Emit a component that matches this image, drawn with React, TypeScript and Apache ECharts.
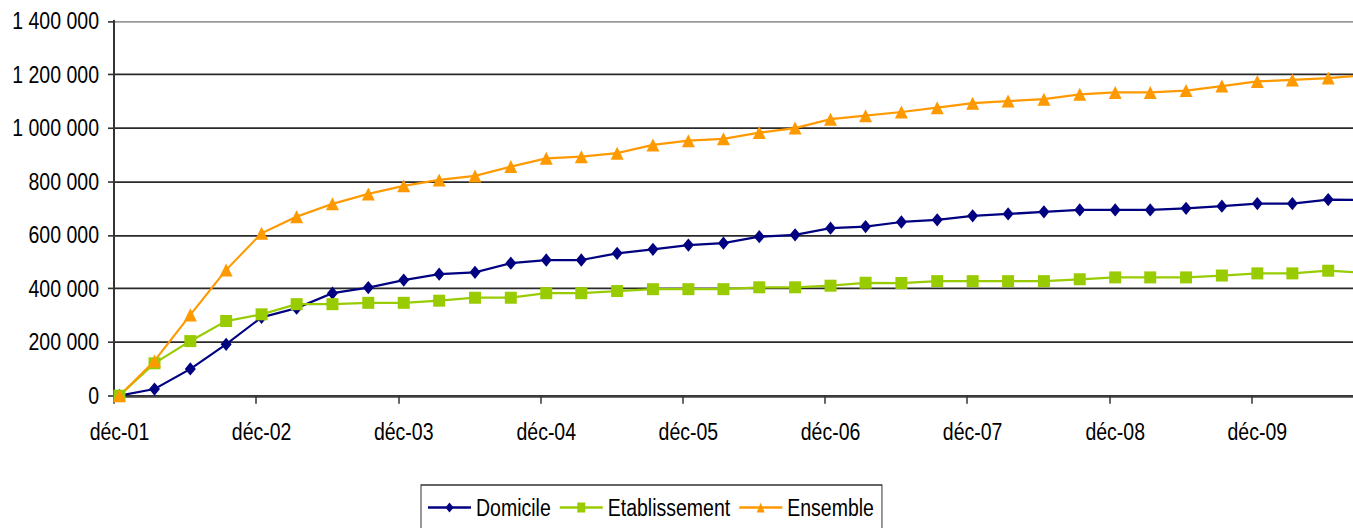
import React, { useEffect, useRef } from "react";
import * as echarts from "echarts";

// Quarterly observation months (cumulative counts)
const quarters = [
  "2001-12", "2002-03", "2002-06", "2002-09", "2002-12", "2003-03", "2003-06", "2003-09",
  "2003-12", "2004-03", "2004-06", "2004-09", "2004-12", "2005-03", "2005-06", "2005-09",
  "2005-12", "2006-03", "2006-06", "2006-09", "2006-12", "2007-03", "2007-06", "2007-09",
  "2007-12", "2008-03", "2008-06", "2008-09", "2008-12", "2009-03", "2009-06", "2009-09",
  "2009-12", "2010-03", "2010-06", "2010-09",
];

const domicile = [
  0, 25000, 100000, 192000, 293000, 327000, 383000, 404000,
  432000, 454000, 461000, 495000, 507000, 507000, 532000, 547000,
  563000, 570000, 594000, 601000, 626000, 632000, 649000, 657000,
  672000, 679000, 687000, 694000, 694000, 694000, 700000, 708000,
  718000, 718000, 733000, 731000,
];

const etablissement = [
  0, 121000, 204000, 279000, 304000, 342000, 342000, 347000,
  347000, 355000, 366000, 366000, 383000, 383000, 391000, 398000,
  398000, 398000, 405000, 405000, 411000, 422000, 421000, 428000,
  428000, 428000, 428000, 435000, 442000, 442000, 442000, 449000,
  457000, 457000, 467000, 460000,
];

const ensemble = [
  0, 130000, 302000, 470000, 607000, 669000, 717000, 754000,
  784000, 806000, 821000, 856000, 887000, 893000, 906000, 937000,
  953000, 960000, 983000, 1000000, 1033000, 1046000, 1060000, 1076000,
  1093000, 1101000, 1108000, 1126000, 1133000, 1133000, 1140000, 1157000,
  1174000, 1180000, 1187000, 1197000,
];

// Year ticks (1st of December) and the labels of the December points
const yearTicks = [
  "2001-12-01", "2002-12-01", "2003-12-01", "2004-12-01", "2005-12-01",
  "2006-12-01", "2007-12-01", "2008-12-01", "2009-12-01",
];
const yearLabels = [
  "déc-01", "déc-02", "déc-03", "déc-04", "déc-05",
  "déc-06", "déc-07", "déc-08", "déc-09",
];

const yMax = 1400000;
const yStep = 200000;

const FONT = "'Liberation Sans', Arial, sans-serif";
const FONT_SIZE = 19.5;

// The drawing is laid out on a shorter canvas and stretched vertically
const PAGE_H = 528;
const CHART_H = 422;
const SY = PAGE_H / CHART_H;
const CHART_W = 1400;
const v = (y: number) => y / SY;

const toTime = (s: string) => {
  const [y, m, d] = s.split("-").map(Number);
  return Date.UTC(y, m - 1, d);
};

// Observations are plotted mid-month
const obsTimes = quarters.map((q) => toTime(q + "-15"));
const tickTimes = yearTicks.map(toTime);
const labelTimes = yearTicks.map((t) => toTime(t.slice(0, 7) + "-15"));

const fmtThousands = (n: number) =>
  String(n).replace(/\B(?=(\d{3})+(?!\d))/g, " ");

const pairs = (vals: number[]) => vals.map((val, i) => [obsTimes[i], val]);

export default function App() {
  const ref = useRef<HTMLDivElement>(null);

  useEffect(() => {
    if (!ref.current) return;
    const chart = echarts.init(ref.current, undefined, { renderer: "svg" });

    const nLines = yMax / yStep + 1;
    const gridColors = Array.from({ length: nLines }, (_, i) =>
      i === nLines - 1 ? "#9a9a9a" : "#2a2a2a"
    );

    chart.setOption({
      animation: false,
      backgroundColor: "#ffffff",
      textStyle: { fontFamily: FONT },
      grid: {
        left: 114,
        top: v(21),
        right: CHART_W - 1394,
        bottom: CHART_H - v(395.7),
        containLabel: false,
        outerBoundsMode: "none",
      },
      xAxis: {
        type: "value",
        min: toTime("2001-12-01"),
        max: toTime("2010-12-01"),
        axisLine: { show: true, onZero: false, lineStyle: { color: "#404040", width: 1.6 } },
        axisTick: {
          show: true,
          customValues: tickTimes,
          length: v(8),
          lineStyle: { color: "#333", width: 1.5 },
        },
        axisLabel: {
          customValues: labelTimes,
          formatter: (val: number) => {
            const idx = labelTimes.indexOf(val);
            return idx >= 0 ? yearLabels[idx] : "";
          },
          margin: 19,
          fontSize: FONT_SIZE,
          color: "#000",
          fontFamily: FONT,
        },
        splitLine: { show: false },
      },
      yAxis: {
        type: "value",
        min: 0,
        max: yMax,
        interval: yStep,
        axisLine: { show: true, lineStyle: { color: "#333", width: 2 } },
        axisTick: { show: true, length: 6, lineStyle: { color: "#333", width: 1.3 } },
        axisLabel: {
          formatter: (n: number) => fmtThousands(n),
          margin: 15,
          fontSize: FONT_SIZE,
          color: "#000",
          fontFamily: FONT,
        },
        splitLine: { show: true, lineStyle: { color: gridColors, width: 1.4 } },
      },
      legend: {
        data: ["Domicile", "Etablissement", "Ensemble"],
        left: 421,
        top: v(485),
        itemWidth: 43,
        itemHeight: 10,
        itemGap: 8,
        padding: [8, 8, 40, 6],
        borderColor: "#333",
        borderWidth: 1,
        textStyle: { fontSize: FONT_SIZE, color: "#000", fontFamily: FONT },
      },
      series: [
        {
          name: "Domicile",
          type: "line",
          data: pairs(domicile),
          symbol: "diamond",
          symbolSize: [11, 10.6],
          lineStyle: { color: "#000080", width: 1.8 },
          itemStyle: { color: "#000080" },
        },
        {
          name: "Etablissement",
          type: "line",
          data: pairs(etablissement),
          symbol: "rect",
          symbolSize: [12, 9.6],
          lineStyle: { color: "#99CC00", width: 1.8 },
          itemStyle: { color: "#99CC00" },
        },
        {
          name: "Ensemble",
          type: "line",
          data: pairs(ensemble),
          symbol: "triangle",
          symbolSize: [13, 10.4],
          lineStyle: { color: "#FF9900", width: 1.8 },
          itemStyle: { color: "#FF9900" },
        },
      ],
    });

    return () => chart.dispose();
  }, []);

  return (
    <div
      style={{
        position: "fixed",
        left: 0,
        top: 0,
        width: "100vw",
        height: "100vh",
        overflow: "hidden",
        background: "#fff",
      }}
    >
      <div
        ref={ref}
        style={{
          width: CHART_W,
          height: CHART_H,
          transform: `scaleY(${SY})`,
          transformOrigin: "0 0",
        }}
      />
    </div>
  );
}
